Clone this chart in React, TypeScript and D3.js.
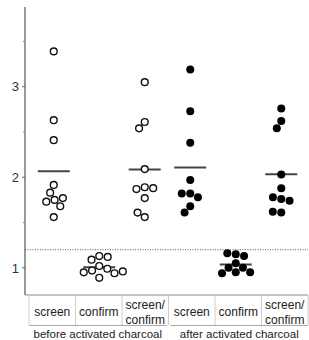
import React from "react";
import * as d3 from "d3";

const categories = ["b_screen", "b_confirm", "b_sc", "a_screen", "a_confirm", "a_sc"];
const categoryLabels = [["screen"], ["confirm"], ["screen/", "confirm"], ["screen"], ["confirm"], ["screen/", "confirm"]];
const groupLabels = ["before activated charcoal", "after activated charcoal"];
const groupMembers = [[0, 1, 2], [3, 4, 5]];
const filled = [false, false, false, true, true, true];

const beforeScreen = [3.39, 2.63, 2.41, 1.915, 1.83, 1.75, 1.73, 1.77, 1.68, 1.56];
const beforeConfirm = [1.13, 1.09, 1.12, 1.02, 0.97, 0.99, 0.95, 0.94, 0.89, 0.96];
const beforeSC = [3.05, 2.61, 2.54, 2.09, 1.89, 1.87, 1.88, 1.77, 1.56, 1.61];
const afterScreen = [3.19, 2.73, 2.38, 1.97, 1.82, 1.82, 1.78, 1.68, 1.61];
const afterConfirm = [1.15, 1.16, 1.13, 1.05, 1.0, 1.0, 0.95, 0.94, 0.95];
const afterSC = [2.76, 2.62, 2.54, 2.03, 1.88, 1.76, 1.78, 1.74, 1.61, 1.62];

const series = [beforeScreen, beforeConfirm, beforeSC, afterScreen, afterConfirm, afterSC];
const majorTicks = [1, 2, 3];
const minorTicks = [1.5, 2.5, 3.5];
const threshold = 1.2;

const W = 309, H = 340;
const axisX = 25;
const plotTop = 7, plotBottom = 295;
const xLeft = 29, xRight = 308;

// continuous "dodge" beeswarm: smallest horizontal offset without collision
function swarm(values: number[], y: (v: number) => number, minD: number) {
  const placed: { x: number; y: number }[] = [];
  return values.map((v) => {
    const py = y(v);
    const near = placed.filter((p) => Math.abs(p.y - py) < minD);
    const cands = [0];
    near.forEach((p) => {
      const dx = Math.sqrt(minD * minD - (p.y - py) ** 2);
      cands.push(p.x - dx, p.x + dx);
    });
    cands.sort((a, b) => Math.abs(a) - Math.abs(b) || a - b);
    let px = 0;
    for (const cx of cands) {
      if (near.every((p) => Math.hypot(p.x - cx, p.y - py) >= minD - 1e-6)) { px = cx; break; }
    }
    const pt = { x: px, y: py };
    placed.push(pt);
    return pt;
  });
}

export default function App() {
  const y = d3.scaleLinear().domain([0.7, 3.88]).range([plotBottom, plotTop]);
  const xt = d3.scaleBand<string>().domain(categories).range([xLeft, xRight]).padding(0);
  const xp = d3.scaleBand<string>().domain(categories).range([31, 304]).padding(0);
  const bw = xt.bandwidth();
  const font = "'Liberation Sans', Arial, sans-serif";

  return (
    <svg width={W} height={H} style={{ position: "absolute", left: 0, top: 0, background: "#fff" }}>
      {/* threshold */}
      <line x1={axisX} x2={xRight} y1={y(threshold)} y2={y(threshold)} stroke="#555" strokeWidth={1} strokeDasharray="1,1.5" />
      {/* y axis */}
      <line x1={axisX} x2={axisX} y1={plotTop} y2={plotBottom} stroke="#555" strokeWidth={1.2} />
      {majorTicks.map((t) => (
        <g key={t}>
          <line x1={axisX - 3} x2={axisX} y1={y(t)} y2={y(t)} stroke="#666" strokeWidth={1} />
          <text x={axisX - 6} y={y(t)} dy="0.36em" textAnchor="end" fontFamily={font} fontSize={13} fill="#333">{t}</text>
        </g>
      ))}
      {minorTicks.map((t) => (
        <line key={t} x1={axisX - 2} x2={axisX} y1={y(t)} y2={y(t)} stroke="#888" strokeWidth={1} />
      ))}
      {/* x axis line */}
      <line x1={axisX} x2={xRight} y1={plotBottom} y2={plotBottom} stroke="#888" strokeWidth={1.2} />
      {/* table separators */}
      {categories.map((c) => (
        <line key={c} x1={xt(c)!} x2={xt(c)!} y1={plotBottom} y2={325} stroke="#ccc" strokeWidth={1} />
      ))}
      <line x1={xRight} x2={xRight} y1={plotBottom} y2={325} stroke="#ccc" strokeWidth={1} />
      {groupMembers.map((g, gi) => {
        const x0 = xt(categories[g[0]])! + (gi === 0 ? 0 : 2);
        const x1 = xt(categories[g[g.length - 1]])! + bw - (gi === 0 ? 2 : 0);
        return (
          <g key={gi}>
            <line x1={x0} x2={x1} y1={325.5} y2={325.5} stroke="#aaa" strokeWidth={1} />
            <text x={(x0 + x1) / 2} y={338} textAnchor="middle" fontFamily={font} fontSize={11.5} fill="#222">{groupLabels[gi]}</text>
          </g>
        );
      })}
      {categories.map((c, i) => {
        const cx = xt(c)! + bw / 2;
        const lines = categoryLabels[i];
        return (
          <text key={c} textAnchor="middle" fontFamily={font} fontSize={12} fill="#222">
            {lines.length === 1 ? (
              <tspan x={cx} y={316}>{lines[0]}</tspan>
            ) : (
              lines.map((l, li) => <tspan key={li} x={cx} y={309 + li * 15}>{l}</tspan>)
            )}
          </text>
        );
      })}
      {/* data */}
      {series.map((vals, i) => {
        const cx = xp(categories[i])! + xp.bandwidth() / 2;
        const pts = swarm(vals, (v) => y(v), 8.5);
        const m = d3.mean(vals)!;
        return (
          <g key={i}>
            <line x1={cx - 16} x2={cx + 16} y1={y(m)} y2={y(m)} stroke="#444" strokeWidth={2} />
            {pts.map((p, j) =>
              filled[i] ? (
                <circle key={j} cx={cx + p.x} cy={p.y} r={4} fill="#000" />
              ) : (
                <circle key={j} cx={cx + p.x} cy={p.y} r={3.4} fill="#fff" stroke="#111" strokeWidth={1.4} />
              )
            )}
          </g>
        );
      })}
    </svg>
  );
}
